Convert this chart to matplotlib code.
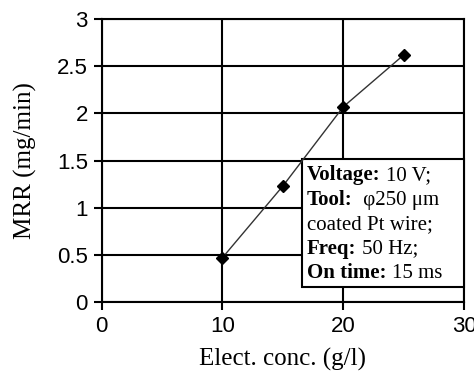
import numpy as np
import matplotlib
matplotlib.use("Agg")
import matplotlib.pyplot as plt
from matplotlib.patches import Rectangle

conc = [10, 15, 20, 25]
mrr = [0.47, 1.23, 2.07, 2.62]
xticks = [0, 10, 20, 30]
yticks = [0, 0.5, 1, 1.5, 2, 2.5, 3]
ytick_labels = ["0", "0.5", "1", "1.5", "2", "2.5", "3"]
box_bold = ["Voltage:", "Tool:", "", "Freq:", "On time:"]
box_rest = ["10 V;", " φ250 μm", "coated Pt wire;", "50 Hz;", "15 ms"]

fig = plt.figure(figsize=(4.74, 3.76), dpi=100)
ax = fig.add_axes([0.2146, 0.197, 0.7644, 0.752])

ax.plot(conc, mrr, color="#333333", lw=1.0, marker="D", ms=6.5,
        mfc="black", mec="black", zorder=5)

ax.set_xlim(0, 30)
ax.set_ylim(0, 3)
ax.set_xticks(xticks)
ax.set_yticks(yticks)
ax.set_yticklabels(ytick_labels)
ax.grid(True, color="black", lw=1.5)
ax.set_axisbelow(True)
for s in ax.spines.values():
    s.set_linewidth(1.5)
ax.tick_params(direction="out", length=6, width=1.5, labelsize=16, pad=4,
               labelfontfamily="Liberation Sans")

ax.set_xlabel("Elect. conc. (g/l)", family="Liberation Serif", fontsize=18, labelpad=8)
ax.set_ylabel("MRR (mg/min)", family="Liberation Serif", fontsize=18, labelpad=14)

# info box
ax.add_patch(Rectangle((16.56, 0.16), 30 - 16.56, 1.514 - 0.16, facecolor="white",
                       edgecolor="black", lw=1.5, zorder=3, clip_on=False))
for i in range(len(box_bold)):
    y = 1.292 - i * 0.26
    if not box_bold[i]:
        ax.text(17.0, y, box_rest[i], family="Liberation Serif", fontsize=15,
                va="baseline", ha="left", zorder=4)
        continue
    b = ax.text(17.0, y, box_bold[i], family="Liberation Serif", fontsize=15,
                fontweight="bold", va="baseline", ha="left", zorder=4)
    ax.annotate(box_rest[i], xy=(1, 0), xycoords=b, xytext=(4, 0),
                textcoords="offset points", family="Liberation Serif",
                fontsize=15, va="bottom", ha="left", zorder=4)

fig.savefig("out.png", dpi=100)
